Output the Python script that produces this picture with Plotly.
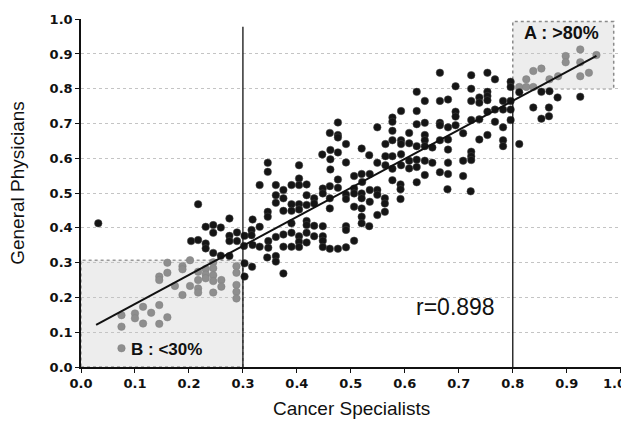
import numpy as np
import plotly.graph_objects as go

# ---- data ----
dark_x = [0.032,
    0.204, 0.217, 0.217,
    0.231, 0.231, 0.231,
    0.245, 0.245, 0.245,
    0.259, 0.259,
    0.275, 0.275, 0.275, 0.275,
    0.289, 0.289,
    0.303, 0.302, 0.303, 0.303,
    0.318, 0.316, 0.316, 0.318, 0.317,
    0.331, 0.331, 0.331,
    0.346, 0.346, 0.346, 0.346, 0.347, 0.347, 0.345,
    0.361, 0.361, 0.361, 0.361, 0.361, 0.361,
    0.375, 0.375, 0.375, 0.375, 0.375, 0.375,
    0.390, 0.390, 0.390, 0.390, 0.390, 0.390,
    0.404, 0.404, 0.404, 0.404, 0.404, 0.404, 0.404, 0.404,
    0.418, 0.418, 0.418, 0.418, 0.418, 0.418, 0.418,
    0.432, 0.432, 0.432, 0.432,
    0.447, 0.448, 0.448, 0.448, 0.448, 0.448, 0.448,
    0.461, 0.462, 0.462, 0.462, 0.461, 0.461, 0.461, 0.461,
    0.476, 0.476, 0.476, 0.476, 0.476, 0.476, 0.476,
    0.491, 0.491, 0.491, 0.491, 0.491, 0.491, 0.491,
    0.506, 0.506, 0.506, 0.506, 0.506,
    0.520, 0.520, 0.521, 0.520, 0.520, 0.520, 0.520, 0.520,
    0.534, 0.535, 0.535, 0.535, 0.534,
    0.549, 0.549, 0.549, 0.549, 0.549,
    0.564, 0.564, 0.564, 0.563, 0.563, 0.563,
    0.577, 0.577, 0.577, 0.577, 0.577, 0.577, 0.577,
    0.593, 0.593, 0.593, 0.593, 0.593, 0.592, 0.592, 0.592,
    0.608, 0.608, 0.608, 0.608,
    0.622, 0.622, 0.622, 0.622, 0.622, 0.622, 0.622,
    0.637, 0.637, 0.637, 0.637, 0.637, 0.637, 0.637,
    0.651, 0.651,
    0.665, 0.665, 0.665, 0.665, 0.665, 0.665,
    0.680, 0.680, 0.680, 0.680, 0.680, 0.680, 0.679,
    0.694, 0.694, 0.694, 0.694,
    0.708, 0.708, 0.708,
    0.723, 0.723, 0.723, 0.723, 0.723, 0.723, 0.723, 0.722,
    0.738, 0.738, 0.738, 0.738,
    0.753, 0.753, 0.753, 0.753, 0.753, 0.753,
    0.767, 0.767, 0.767,
    0.782, 0.782, 0.782, 0.782, 0.782,
    0.796, 0.796, 0.796, 0.796, 0.796,
    0.812, 0.812, 0.838, 0.853, 0.853, 0.868, 0.867, 0.867, 0.883, 0.925]
dark_y = [0.413,
    0.362, 0.365, 0.468,
    0.403, 0.355, 0.341,
    0.408, 0.386, 0.328,
    0.401, 0.320,
    0.427, 0.377, 0.362, 0.319,
    0.387, 0.362,
    0.377, 0.348, 0.298, 0.260,
    0.424, 0.394, 0.379, 0.351, 0.288,
    0.523, 0.403, 0.346,
    0.587, 0.561, 0.446, 0.432, 0.362, 0.343, 0.315,
    0.523, 0.494, 0.472, 0.374, 0.319, 0.303,
    0.509, 0.485, 0.449, 0.381, 0.346, 0.269,
    0.523, 0.468, 0.449, 0.413, 0.386, 0.346,
    0.580, 0.542, 0.523, 0.468, 0.453, 0.376, 0.360, 0.345,
    0.525, 0.494, 0.466, 0.420, 0.408, 0.386, 0.358,
    0.485, 0.470, 0.406, 0.376,
    0.611, 0.513, 0.499, 0.405, 0.376, 0.363, 0.345,
    0.673, 0.624, 0.597, 0.568, 0.520, 0.485, 0.456, 0.340,
    0.703, 0.667, 0.660, 0.617, 0.539, 0.515, 0.340,
    0.641, 0.588, 0.496, 0.483, 0.405, 0.394, 0.344,
    0.549, 0.513, 0.499, 0.461, 0.363,
    0.628, 0.555, 0.532, 0.499, 0.485, 0.456, 0.432, 0.413,
    0.609, 0.555, 0.509, 0.475, 0.405,
    0.689, 0.587, 0.509, 0.495, 0.437,
    0.641, 0.606, 0.580, 0.485, 0.470, 0.446,
    0.717, 0.705, 0.679, 0.652, 0.606, 0.570, 0.537,
    0.736, 0.652, 0.641, 0.612, 0.580, 0.525, 0.511, 0.483,
    0.673, 0.643, 0.593, 0.571,
    0.791, 0.736, 0.698, 0.635, 0.596, 0.575, 0.531,
    0.765, 0.702, 0.667, 0.652, 0.635, 0.593, 0.552,
    0.631, 0.587,
    0.846, 0.765, 0.702, 0.695, 0.652, 0.560,
    0.769, 0.689, 0.654, 0.625, 0.587, 0.555, 0.511,
    0.807, 0.734, 0.720, 0.695,
    0.672, 0.593, 0.549,
    0.839, 0.800, 0.765, 0.710, 0.619, 0.606, 0.595, 0.505,
    0.775, 0.760, 0.712, 0.654,
    0.846, 0.791, 0.779, 0.767, 0.734, 0.667,
    0.827, 0.740, 0.705,
    0.765, 0.740, 0.689, 0.652, 0.635,
    0.820, 0.805, 0.765, 0.740, 0.710,
    0.641, 0.790, 0.746, 0.791, 0.714, 0.793, 0.746, 0.721, 0.775, 0.777]

low_x = [0.075, 0.075, 0.075, 0.100, 0.100, 0.115, 0.115, 0.130,
    0.145, 0.145, 0.145, 0.145, 0.160, 0.160, 0.160, 0.174,
    0.188, 0.188, 0.188, 0.202, 0.202,
    0.217, 0.217, 0.217, 0.217, 0.231, 0.231, 0.231,
    0.245, 0.245, 0.245, 0.245, 0.245, 0.260, 0.260,
    0.288, 0.288, 0.288, 0.288, 0.288]
low_y = [0.149, 0.116, 0.054, 0.154, 0.140, 0.173, 0.125, 0.156,
    0.178, 0.124, 0.260, 0.250, 0.143, 0.300, 0.271, 0.233,
    0.290, 0.281, 0.207, 0.307, 0.233,
    0.274, 0.250, 0.226, 0.214, 0.282, 0.266, 0.255,
    0.301, 0.284, 0.264, 0.247, 0.214, 0.250, 0.231,
    0.290, 0.271, 0.236, 0.216, 0.197]

high_x = [0.925, 0.898, 0.898, 0.925, 0.955, 0.838, 0.853, 0.868,
    0.884, 0.925, 0.941, 0.825, 0.812, 0.825, 0.838]
high_y = [0.913, 0.894, 0.876, 0.876, 0.897, 0.851, 0.858, 0.827,
    0.836, 0.836, 0.846, 0.827, 0.805, 0.805, 0.805]

# regression line as printed in the figure (intercept, slope) and its x extent
fit_intercept = 0.098
fit_slope = 0.834
fit_x = [0.028, 0.955]

low_cut = 0.3
high_cut = 0.8
r_text = "r=0.898"
tick_vals = [0.0, 0.1, 0.2, 0.3, 0.4, 0.5, 0.6, 0.7, 0.8, 0.9, 1.0]
tick_text = ["0.0", "0.1", "0.2", "0.3", "0.4", "0.5", "0.6", "0.7", "0.8", "0.9", "1.0"]

fit_y = [fit_intercept + fit_slope * v for v in fit_x]

gray_marker = dict(size=7.5, color="#8e8e8e", line=dict(width=1, color="rgba(130,130,130,0.5)"))
dark_marker = dict(size=7.5, color="#151515", line=dict(width=1, color="rgba(70,70,70,0.5)"))

fig = go.Figure()
fig.add_trace(go.Scatter(x=low_x, y=low_y, mode="markers", marker=gray_marker))
fig.add_trace(go.Scatter(x=high_x, y=high_y, mode="markers", marker=gray_marker))
fig.add_trace(go.Scatter(x=dark_x, y=dark_y, mode="markers", marker=dark_marker))
fig.add_trace(go.Scatter(x=fit_x, y=fit_y, mode="lines",
                         line=dict(color="#111111", width=2), hoverinfo="skip"))

shapes = [
    dict(type="rect", xref="x", yref="y", x0=0, x1=low_cut, y0=0, y1=0.307,
         fillcolor="rgba(185,185,185,0.25)", line=dict(color="#9a9a9a", width=1.5, dash="dot"),
         layer="below"),
    dict(type="rect", xref="x", yref="y", x0=high_cut, x1=0.987, y0=high_cut, y1=0.993,
         fillcolor="rgba(185,185,185,0.25)", line=dict(color="#8a8a8a", width=1.5, dash="dot"),
         layer="below"),
    dict(type="line", xref="x", yref="y", x0=low_cut, x1=low_cut, y0=0, y1=0.978,
         line=dict(color="#111111", width=1.3)),
    dict(type="line", xref="x", yref="y", x0=high_cut, x1=high_cut, y0=0, y1=high_cut,
         line=dict(color="#111111", width=1.3)),
]

tick_font = dict(family="DejaVu Sans", size=13, color="#111111", weight="bold")

annotations = [
    dict(x=0.891, y=0.959, xref="x", yref="y", text="<b>A : >80%</b>", showarrow=False,
         font=dict(family="Liberation Sans, Arial", size=18, color="#111111")),
    dict(x=0.158, y=0.051, xref="x", yref="y", text="<b>B : <30%</b>", showarrow=False,
         font=dict(family="Liberation Sans, Arial", size=17, color="#111111")),
    dict(x=0.693, y=0.172, xref="x", yref="y", text=r_text, showarrow=False,
         font=dict(family="Liberation Sans, Arial", size=23, color="#111111")),
    dict(x=0.5, y=-0.12, xref="paper", yref="paper", yanchor="middle", text="Cancer Specialists",
         showarrow=False, font=dict(family="Liberation Sans, Arial", size=19, color="#111111")),
    dict(x=-0.118, y=0.53, xref="paper", yref="paper", xanchor="center", yanchor="middle",
         text="General Physicians", textangle=-90,
         showarrow=False, font=dict(family="Liberation Sans, Arial", size=19, color="#111111")),
    # last x tick label, nudged left so it stays inside the picture (as in the original)
    dict(x=tick_vals[-1], y=-0.046, xref="x", yref="paper", xanchor="right", yanchor="middle",
         xshift=7, text="<b>" + tick_text[-1] + "</b>", showarrow=False, font=tick_font),
]

# the page body adds an 8px offset, so the figure is 8px smaller and margins shifted
fig.update_layout(
    width=621, height=416,
    margin=dict(l=73, r=8, t=11, b=57),
    paper_bgcolor="white", plot_bgcolor="white",
    showlegend=False, hovermode="closest",
    shapes=shapes, annotations=annotations,
    font=dict(family="Liberation Sans, Arial", color="#111111"),
)
axis_common = dict(
    range=[0, 1.0005], tickvals=tick_vals, automargin=False,
    zeroline=False, showline=True, linecolor="#111111", linewidth=1.5,
    ticks="outside", ticklen=4, tickcolor="#111111", tickfont=tick_font,
)
fig.update_xaxes(showgrid=False, ticktext=tick_text[:-1] + [""], **axis_common)
fig.update_yaxes(showgrid=True, gridcolor="#c4c4c4", griddash="dot", gridwidth=1,
                 ticktext=tick_text, **axis_common)

fig.write_html("out.html")
